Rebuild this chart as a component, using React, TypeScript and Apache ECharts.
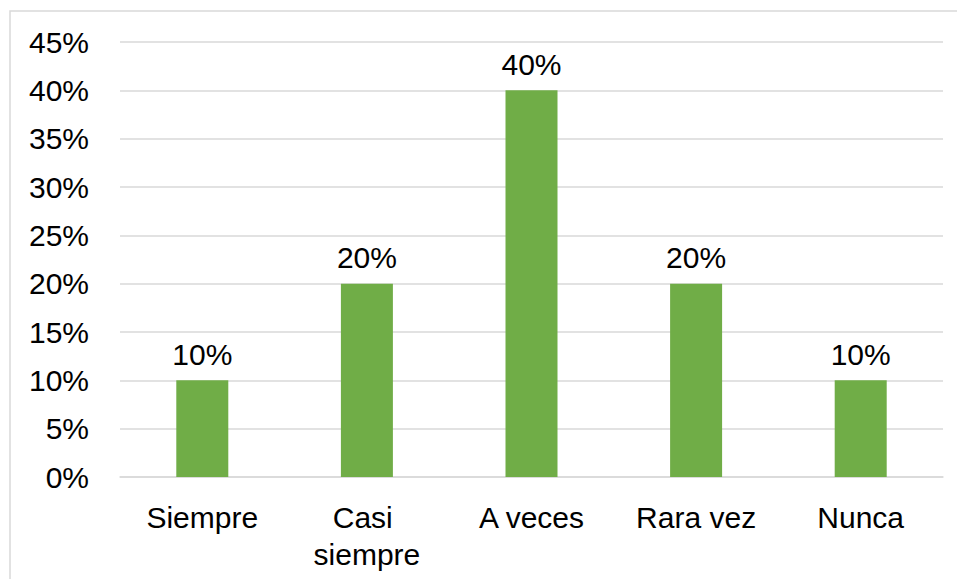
import React, { useEffect, useRef } from "react";
import * as echarts from "echarts";

const categories = ["Siempre", "Casi siempre", "A veces", "Rara vez", "Nunca"];
const values = [10, 20, 40, 20, 10];
const yTicks = { min: 0, max: 45, interval: 5 };

export default function App() {
  const ref = useRef<HTMLDivElement>(null);
  useEffect(() => {
    if (!ref.current) return;
    const chart = echarts.init(ref.current, null, { renderer: "svg" });
    const font = "'Liberation Sans', Arial, sans-serif";
    chart.setOption({
      animation: false,
      backgroundColor: "#ffffff",
      graphic: [
        {
          type: "rect",
          shape: { x: 10, y: 11, width: 960, height: 600 },
          style: { fill: "none", stroke: "#d9d9d9", lineWidth: 1.5 },
          silent: true,
        },
      ],
      grid: { left: 120, right: 14, top: 42, bottom: 102 },
      xAxis: {
        type: "category",
        data: categories,
        axisLine: { show: true, lineStyle: { color: "#d9d9d9", width: 1.5 } },
        axisTick: { show: false },
        axisLabel: {
          color: "#000000",
          fontFamily: font,
          fontSize: 30,
          lineHeight: 37,
          margin: 22,
          width: 150,
          overflow: "break",
          interval: 0,
        },
      },
      yAxis: {
        type: "value",
        min: yTicks.min,
        max: yTicks.max,
        interval: yTicks.interval,
        axisLine: { show: false },
        axisTick: { show: false },
        splitLine: { lineStyle: { color: "#d9d9d9", width: 1.5 } },
        axisLabel: {
          color: "#000000",
          fontFamily: font,
          fontSize: 30,
          margin: 31,
          formatter: (v: number) => `${v}%`,
        },
      },
      series: [
        {
          type: "bar",
          data: values,
          barWidth: 52,
          itemStyle: { color: "#70ad47" },
          label: {
            show: true,
            position: "top",
            distance: 11,
            color: "#000000",
            fontFamily: font,
            fontSize: 30,
            formatter: (p: any) => `${p.value}%`,
          },
        },
      ],
    });
    return () => chart.dispose();
  }, []);
  return (
    <div
      ref={ref}
      style={{ position: "fixed", left: 0, top: 0, width: 957, height: 579 }}
    />
  );
}
